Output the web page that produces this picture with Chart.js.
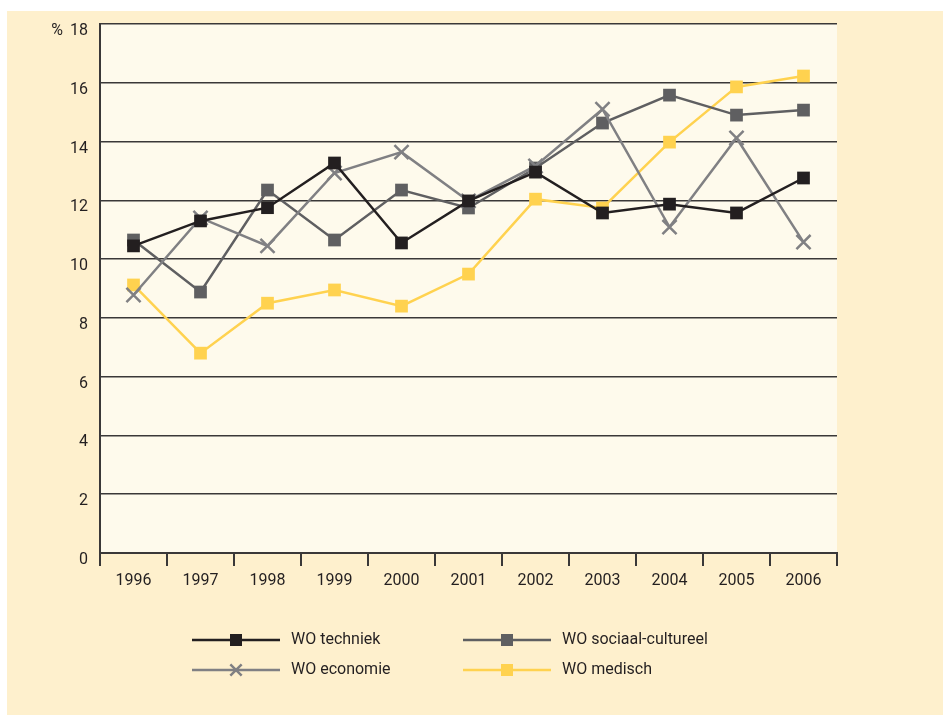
<!DOCTYPE html>
<html>
<head>
<meta charset="utf-8">
<script src="https://cdn.jsdelivr.net/npm/chart.js@4.4.0/dist/chart.umd.min.js"></script>
<style>
  html, body { margin: 0; padding: 0; background: #fff; }
  #wrap { position: relative; width: 943px; height: 715px; }
</style>
</head>
<body>
<div id="wrap"><canvas id="trend" width="943" height="715"></canvas></div>
<script>
const years = ["1996", "1997", "1998", "1999", "2000", "2001", "2002", "2003", "2004", "2005", "2006"];
const techniek = [10.45, 11.3, 11.75, 13.27, 10.55, 11.98, 12.96, 11.57, 11.87, 11.57, 12.76];
const economie = [8.78, 11.4, 10.45, 12.93, 13.64, 11.98, 13.17, 15.1, 11.09, 14.12, 10.58];
const sociaal = [10.65, 8.88, 12.35, 10.65, 12.35, 11.74, 13.1, 14.63, 15.58, 14.9, 15.07];
const medisch = [9.12, 6.8, 8.5, 8.95, 8.4, 9.49, 12.04, 11.74, 13.98, 15.86, 16.23];
const yTicks = [0, 2, 4, 6, 8, 10, 12, 14, 16, 18];

const FONT = '"Liberation Sans Narrow", Roboto, "DejaVu Sans Condensed", sans-serif';
const TEXT = "#231f20";

// legend layout: dataset index, line start x, row y
const legendItems = [
  { label: "WO techniek", ds: 0, x: 192, y: 640 },
  { label: "WO sociaal-cultureel", ds: 2, x: 463, y: 640 },
  { label: "WO economie", ds: 1, x: 192, y: 670 },
  { label: "WO medisch", ds: 3, x: 463, y: 670 }
];

function series(label, data, color, style, radius) {
  return {
    label: label,
    data: data,
    borderColor: color,
    backgroundColor: color,
    borderWidth: 2.5,
    pointStyle: style,
    pointRadius: radius,
    pointHoverRadius: radius,
    pointBorderColor: color,
    pointBackgroundColor: color,
    pointBorderWidth: style === "crossRot" ? 2.5 : 0,
    tension: 0,
    clip: false
  };
}

const backgroundPlugin = {
  id: "panel",
  beforeDraw(chart) {
    const c = chart.ctx;
    const a = chart.chartArea;
    c.save();
    c.fillStyle = "#ffffff";
    c.fillRect(0, 0, chart.width, chart.height);
    c.fillStyle = "#fef0cd";
    c.fillRect(7, 11, chart.width - 7, chart.height - 11);
    c.fillStyle = "#fefaec";
    c.fillRect(a.left, a.top, a.right - a.left, a.bottom - a.top);
    c.restore();
  }
};

const extrasPlugin = {
  id: "extras",
  afterDraw(chart) {
    const c = chart.ctx;
    const y = chart.scales.y;
    c.save();
    // unit label next to the top tick
    c.font = "16px " + FONT;
    c.fillStyle = TEXT;
    c.textAlign = "right";
    c.textBaseline = "middle";
    c.fillText("%", 63, y.getPixelForValue(18) + 7);

    // legend: line sample with marker in the middle
    legendItems.forEach((item) => {
      const ds = chart.data.datasets[item.ds];
      c.strokeStyle = ds.borderColor;
      c.fillStyle = ds.borderColor;
      c.lineWidth = 2.5;
      c.beginPath();
      c.moveTo(item.x, item.y);
      c.lineTo(item.x + 88, item.y);
      c.stroke();
      Chart.helpers.drawPoint(c, {
        pointStyle: ds.pointStyle,
        radius: ds.pointStyle === "crossRot" ? 8 : 8.5,
        borderWidth: ds.pointStyle === "crossRot" ? 2.5 : 0,
        rotation: 0
      }, item.x + 44, item.y);
      c.fillStyle = TEXT;
      c.font = "16px " + FONT;
      c.textAlign = "left";
      c.textBaseline = "middle";
      c.fillText(item.label, item.x + 99, item.y);
    });
    c.restore();
  }
};

new Chart(document.getElementById("trend").getContext("2d"), {
  type: "line",
  data: {
    labels: years,
    datasets: [
      series("WO techniek", techniek, "#231f20", "rect", 9),
      series("WO economie", economie, "#808083", "crossRot", 10),
      series("WO sociaal-cultureel", sociaal, "#5f5f61", "rect", 9),
      series("WO medisch", medisch, "#ffd24f", "rect", 9)
    ]
  },
  options: {
    responsive: false,
    devicePixelRatio: 1,
    animation: false,
    layout: { padding: { top: 24, left: 0, right: 106, bottom: 0 } },
    plugins: {
      legend: { display: false },
      tooltip: { enabled: false }
    },
    scales: {
      x: {
        type: "category",
        offset: true,
        grid: {
          offset: true,
          drawOnChartArea: false,
          drawTicks: true,
          tickLength: 13,
          color: "#3a3838",
          lineWidth: 2
        },
        border: { display: true, color: "#3a3838", width: 2 },
        ticks: {
          padding: 5,
          color: TEXT,
          font: { family: FONT, size: 16 },
          maxRotation: 0
        },
        afterFit(scale) { scale.height = 162; }
      },
      y: {
        min: 0,
        max: 18,
        afterBuildTicks(scale) { scale.ticks = yTicks.map((v) => ({ value: v })); },
        grid: { color: "#3a3838", lineWidth: 1.5, drawTicks: false },
        border: { display: true, color: "#3a3838", width: 2 },
        ticks: {
          padding: 12,
          labelOffset: 7,
          color: TEXT,
          font: { family: FONT, size: 16 }
        },
        afterFit(scale) { scale.width = 100; }
      }
    }
  },
  plugins: [backgroundPlugin, extrasPlugin]
});
</script>
</body>
</html>
